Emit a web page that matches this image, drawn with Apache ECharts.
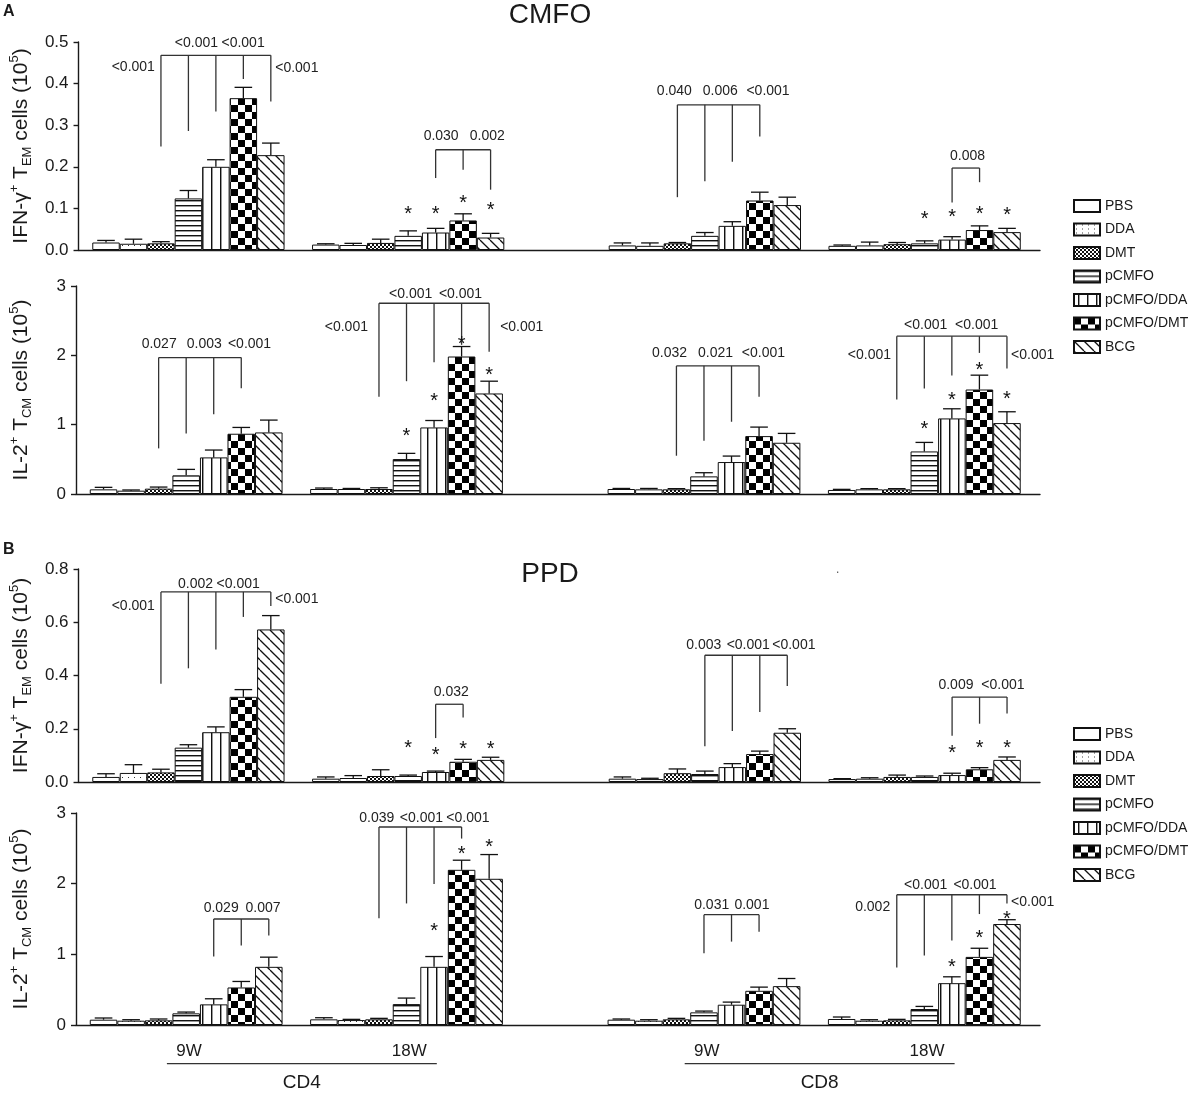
<!DOCTYPE html>
<html><head><meta charset="utf-8">
<script src="https://cdn.jsdelivr.net/npm/echarts@6/dist/echarts.min.js"></script>
<style>html,body{margin:0;padding:0;background:#fff}#c{width:1189px;height:1093px}</style>
</head><body><div id="c"></div>
<script>
// ---------- DATA ----------
const treatments = ['PBS', 'DDA', 'DMT', 'pCMFO', 'pCMFO/DDA', 'pCMFO/DMT', 'BCG'];
const groupLabels = ['9W', '18W', '9W', '18W'];
const cellLabels = ['CD4', 'CD8'];

const cmfoIfnTicks = ['0.0', '0.1', '0.2', '0.3', '0.4', '0.5'];
const cmfoIl2Ticks = ['0', '1', '2', '3'];
const ppdIfnTicks = ['0.0', '0.2', '0.4', '0.6', '0.8'];
const ppdIl2Ticks = ['0', '1', '2', '3'];

// rows = groups (CD4 9W, CD4 18W, CD8 9W, CD8 18W), columns = treatments
const cmfoIfnMean = [
  [0.018, 0.015, 0.016, 0.124, 0.200, 0.365, 0.228],
  [0.013, 0.012, 0.017, 0.034, 0.042, 0.071, 0.030],
  [0.011, 0.010, 0.016, 0.034, 0.058, 0.119, 0.108],
  [0.010, 0.011, 0.014, 0.016, 0.025, 0.048, 0.043]
];
const cmfoIfnErr = [
  [0.005, 0.011, 0.004, 0.019, 0.017, 0.026, 0.029],
  [0.002, 0.004, 0.009, 0.012, 0.010, 0.016, 0.010],
  [0.006, 0.007, 0.002, 0.008, 0.010, 0.020, 0.019],
  [0.002, 0.008, 0.004, 0.006, 0.007, 0.010, 0.009]
];
const cmfoIl2Mean = [
  [0.067, 0.048, 0.077, 0.269, 0.528, 0.869, 0.888],
  [0.072, 0.072, 0.072, 0.504, 0.960, 1.983, 1.450],
  [0.072, 0.067, 0.067, 0.254, 0.461, 0.835, 0.739],
  [0.058, 0.067, 0.067, 0.614, 1.090, 1.507, 1.023]
];
const cmfoIl2Err = [
  [0.029, 0.010, 0.023, 0.086, 0.106, 0.091, 0.178],
  [0.014, 0.008, 0.018, 0.082, 0.100, 0.144, 0.177],
  [0.008, 0.013, 0.010, 0.053, 0.086, 0.130, 0.135],
  [0.009, 0.010, 0.010, 0.130, 0.139, 0.207, 0.163]
];
const ppdIfnMean = [
  [0.019, 0.034, 0.036, 0.129, 0.187, 0.320, 0.573],
  [0.0125, 0.015, 0.0225, 0.0225, 0.0376, 0.076, 0.083],
  [0.0125, 0.011, 0.033, 0.030, 0.056, 0.105, 0.185],
  [0.011, 0.0125, 0.019, 0.019, 0.026, 0.0476, 0.083]
];
const ppdIfnErr = [
  [0.012, 0.031, 0.012, 0.011, 0.020, 0.027, 0.052],
  [0.0065, 0.009, 0.0235, 0.0035, 0.0034, 0.009, 0.010],
  [0.0065, 0.003, 0.016, 0.011, 0.013, 0.011, 0.015],
  [0.0015, 0.0035, 0.007, 0.0035, 0.007, 0.0064, 0.011]
];
const ppdIl2Mean = [
  [0.075, 0.061, 0.066, 0.165, 0.292, 0.531, 0.823],
  [0.080, 0.070, 0.080, 0.296, 0.823, 2.196, 2.069],
  [0.075, 0.061, 0.080, 0.179, 0.287, 0.484, 0.550],
  [0.085, 0.061, 0.066, 0.226, 0.592, 0.964, 1.429]
];
const ppdIl2Err = [
  [0.024, 0.014, 0.019, 0.018, 0.079, 0.085, 0.137],
  [0.023, 0.010, 0.014, 0.085, 0.146, 0.136, 0.343],
  [0.010, 0.014, 0.014, 0.018, 0.037, 0.052, 0.108],
  [0.028, 0.014, 0.014, 0.037, 0.090, 0.122, 0.061]
];

// significance brackets: group, top value, drops [barIndex, bottom value]
const cmfoIfnBrackets = [
  {g: 0, top: 0.468, drops: [[2, 0.249], [3, 0.286], [4, 0.333], [5, 0.411], [6, 0.357]]},
  {g: 1, top: 0.241, drops: [[4, 0.173], [5, 0.193], [6, 0.145]]},
  {g: 2, top: 0.349, drops: [[2, 0.127], [3, 0.165], [4, 0.212], [5, 0.273]]},
  {g: 3, top: 0.197, drops: [[4, 0.114], [5, 0.163]]}
];
const cmfoIl2Brackets = [
  {g: 0, top: 1.968, drops: [[2, 0.658], [3, 0.874], [4, 1.152], [5, 1.527]]},
  {g: 1, top: 2.751, drops: [[2, 1.402], [3, 1.627], [4, 1.901], [5, 2.151], [6, 2.05]]},
  {g: 2, top: 1.848, drops: [[2, 0.552], [3, 0.768], [4, 1.042], [5, 1.402]]},
  {g: 3, top: 2.276, drops: [[2, 1.363], [3, 1.522], [4, 1.709], [5, 2.035], [6, 1.81]]}
];
const ppdIfnBrackets = [
  {g: 0, top: 0.714, drops: [[2, 0.369], [3, 0.427], [4, 0.498], [5, 0.62], [6, 0.661]]},
  {g: 1, top: 0.292, drops: [[4, 0.165], [5, 0.242]]},
  {g: 2, top: 0.476, drops: [[3, 0.134], [4, 0.192], [5, 0.263], [6, 0.361]]},
  {g: 3, top: 0.319, drops: [[4, 0.174], [5, 0.219], [6, 0.257]]}
];
const ppdIl2Brackets = [
  {g: 0, top: 1.5, drops: [[4, 0.969], [5, 1.124], [6, 1.265]]},
  {g: 1, top: 2.802, drops: [[2, 1.51], [3, 1.72], [4, 1.994], [5, 2.638]]},
  {g: 2, top: 1.561, drops: [[3, 1.016], [4, 1.18], [5, 1.321]]},
  {g: 3, top: 1.843, drops: [[2, 0.813], [3, 0.983], [4, 1.194], [5, 1.57], [6, 1.72]]}
];

// p-values: [group, bar position, value, text, align]
const cmfoIfnPvals = [
  [0, 1.78, 0.44, '<0.001', 'right'], [0, 3.29, 0.498, '<0.001', 'center'],
  [0, 4.99, 0.498, '<0.001', 'center'], [0, 6.16, 0.436, '<0.001', 'left'],
  [1, 4.2, 0.273, '0.030', 'center'], [1, 5.88, 0.273, '0.002', 'center'],
  [2, 1.89, 0.382, '0.040', 'center'], [2, 3.56, 0.382, '0.006', 'center'], [2, 5.3, 0.382, '<0.001', 'center'],
  [3, 4.56, 0.225, '0.008', 'center']
];
const cmfoIl2Pvals = [
  [0, 2.02, 2.16, '0.027', 'center'], [0, 3.66, 2.16, '0.003', 'center'], [0, 5.3, 2.16, '<0.001', 'center'],
  [1, 1.6, 2.41, '<0.001', 'right'], [1, 3.15, 2.88, '<0.001', 'center'],
  [1, 4.96, 2.88, '<0.001', 'center'], [1, 6.4, 2.41, '<0.001', 'left'],
  [2, 1.75, 2.035, '0.032', 'center'], [2, 3.42, 2.035, '0.021', 'center'], [2, 5.16, 2.035, '<0.001', 'center'],
  [3, 1.79, 1.997, '<0.001', 'right'], [3, 3.05, 2.44, '<0.001', 'center'],
  [3, 4.9, 2.44, '<0.001', 'center'], [3, 6.15, 1.997, '<0.001', 'left']
];
const ppdIfnPvals = [
  [0, 1.78, 0.661, '<0.001', 'right'], [0, 3.26, 0.742, '0.002', 'center'],
  [0, 4.81, 0.742, '<0.001', 'center'], [0, 6.16, 0.685, '<0.001', 'left'],
  [1, 4.57, 0.338, '0.032', 'center'],
  [2, 2.96, 0.513, '0.003', 'center'], [2, 4.58, 0.513, '<0.001', 'center'], [2, 6.24, 0.513, '<0.001', 'center'],
  [3, 4.14, 0.363, '0.009', 'center'], [3, 5.85, 0.363, '<0.001', 'center']
];
const ppdIl2Pvals = [
  [0, 4.27, 1.66, '0.029', 'center'], [0, 5.79, 1.66, '0.007', 'center'],
  [1, 1.92, 2.934, '0.039', 'center'], [1, 3.54, 2.934, '<0.001', 'center'], [1, 5.23, 2.934, '<0.001', 'center'],
  [2, 3.28, 1.697, '0.031', 'center'], [2, 4.74, 1.697, '0.001', 'center'],
  [3, 1.76, 1.665, '0.002', 'right'], [3, 3.05, 1.98, '<0.001', 'center'],
  [3, 4.84, 1.98, '<0.001', 'center'], [3, 6.15, 1.745, '<0.001', 'left']
];

// asterisks: [group, bar, value]
const cmfoIfnStars = [[1, 3, 0.097], [1, 4, 0.097], [1, 5, 0.123], [1, 6, 0.107], [3, 3, 0.085], [3, 4, 0.09], [3, 5, 0.097], [3, 6, 0.095]];
const cmfoIl2Stars = [[1, 3, 0.907], [1, 4, 1.40], [1, 5, 2.228], [1, 6, 1.786], [3, 3, 1.008], [3, 4, 1.426], [3, 5, 1.848], [3, 6, 1.44]];
const ppdIfnStars = [[1, 3, 0.144], [1, 4, 0.119], [1, 5, 0.141], [1, 6, 0.141], [3, 4, 0.125], [3, 5, 0.144], [3, 6, 0.144]];
const ppdIl2Stars = [[1, 4, 1.39], [1, 5, 2.48], [1, 6, 2.577], [3, 4, 0.884], [3, 5, 1.288], [3, 6, 1.57]];

// ---------- LAYOUT / STYLE ----------
const FONT = '"Liberation Sans", Arial, sans-serif';
const INK = '#1a1a1a';
const groupStart = [1, 9, 19.8, 27.8];   // slot position of first bar of each group
const X_MAX = 35;

function tile(w, h, draw) {
  const c = document.createElement('canvas');
  c.width = w; c.height = h;
  const ctx = c.getContext('2d');
  ctx.fillStyle = '#fff'; ctx.fillRect(0, 0, w, h);
  draw(ctx);
  return {image: c, repeat: 'repeat'};
}
const fills = [
  '#ffffff',
  tile(6, 4, c => { c.fillStyle = '#333'; c.fillRect(2, 1, 1, 1); }),
  tile(4, 4, c => { c.fillStyle = '#111'; c.fillRect(0, 0, 2, 2); c.fillRect(2, 2, 2, 2); }),
  tile(4, 5, c => { c.fillStyle = '#111'; c.fillRect(0, 0, 4, 1); c.fillStyle = '#999'; c.fillRect(0, 1, 4, 1); }),
  tile(9, 4, c => { c.fillStyle = '#111'; c.fillRect(4, 0, 1, 4); c.fillStyle = '#999'; c.fillRect(5, 0, 1, 4); }),
  tile(14, 14, c => { c.fillStyle = '#000'; c.fillRect(0, 0, 7, 7); c.fillRect(7, 7, 7, 7); }),
  tile(10, 10, c => { c.strokeStyle = '#111'; c.lineWidth = 1.3; [-10, 0, 10].forEach(k => { c.beginPath(); c.moveTo(k, 0); c.lineTo(k + 10, 10); c.stroke(); }); })
];

const ifnName = '{a|IFN-γ}{sup|+}{a| T}{sub|EM}{a| cells (10}{sup|5}{a|)}';
const il2Name = '{a|IL-2}{sup|+}{a| T}{sub|CM}{a| cells (10}{sup|5}{a|)}';

const panels = [
  {top: 42, height: 208, ticks: cmfoIfnTicks, name: ifnName, mean: cmfoIfnMean, err: cmfoIfnErr, brackets: cmfoIfnBrackets, pvals: cmfoIfnPvals, stars: cmfoIfnStars},
  {top: 286, height: 208, ticks: cmfoIl2Ticks, name: il2Name, mean: cmfoIl2Mean, err: cmfoIl2Err, brackets: cmfoIl2Brackets, pvals: cmfoIl2Pvals, stars: cmfoIl2Stars},
  {top: 569, height: 213, ticks: ppdIfnTicks, name: ifnName, mean: ppdIfnMean, err: ppdIfnErr, brackets: ppdIfnBrackets, pvals: ppdIfnPvals, stars: ppdIfnStars},
  {top: 813, height: 212, ticks: ppdIl2Ticks, name: il2Name, mean: ppdIl2Mean, err: ppdIl2Err, brackets: ppdIl2Brackets, pvals: ppdIl2Pvals, stars: ppdIl2Stars}
];

const lineStyle = {stroke: '#333', lineWidth: 1.3};

function annotList(p) {
  const list = [];
  p.brackets.forEach(b => list.push({kind: 'b', g: b.g, top: b.top, drops: b.drops}));
  p.pvals.forEach(v => list.push({kind: 'p', g: v[0], x: v[1], y: v[2], text: v[3], align: v[4]}));
  p.stars.forEach(s => list.push({kind: 's', g: s[0], x: s[1], y: s[2]}));
  return list;
}

function annotRender(list) {
  return function (params, api) {
    const a = list[params.dataIndex];
    const X = (g, i) => groupStart[g] + i;
    if (a.kind === 'b') {
      const first = a.drops[0][0], last = a.drops[a.drops.length - 1][0];
      const l = api.coord([X(a.g, first), a.top]), r = api.coord([X(a.g, last), a.top]);
      const children = [{type: 'line', shape: {x1: l[0], y1: l[1], x2: r[0], y2: r[1]}, style: lineStyle}];
      a.drops.forEach(d => {
        const t = api.coord([X(a.g, d[0]), a.top]), b = api.coord([X(a.g, d[0]), d[1]]);
        children.push({type: 'line', shape: {x1: t[0], y1: t[1], x2: b[0], y2: b[1]}, style: lineStyle});
      });
      return {type: 'group', children};
    }
    if (a.kind === 'p') {
      const pt = api.coord([X(a.g, a.x), a.y]);
      return {type: 'text', x: pt[0], y: pt[1], style: {text: a.text, fill: '#222', font: '14px ' + FONT, align: a.align, verticalAlign: 'middle'}};
    }
    const pt = api.coord([X(a.g, a.x), a.y]);
    return {type: 'text', x: pt[0], y: pt[1] + 5, style: {text: '*', fill: '#111', font: '20px ' + FONT, align: 'center', verticalAlign: 'middle'}};
  };
}

const grids = [], xAxes = [], yAxes = [], series = [];
panels.forEach((p, pi) => {
  grids.push({left: 67, width: 973, top: p.top, height: p.height});
  xAxes.push({type: 'value', gridIndex: pi, min: 0, max: X_MAX, axisLine: {show: true, onZero: false, lineStyle: {color: INK, width: 1.4}}, axisTick: {show: false}, axisLabel: {show: false}, splitLine: {show: false}});
  const tv = p.ticks.map(Number);
  yAxes.push({
    type: 'value', gridIndex: pi, min: 0, max: tv[tv.length - 1], interval: tv[1] - tv[0],
    axisLine: {show: true, lineStyle: {color: INK, width: 1.4}},
    axisTick: {show: true, length: 5, lineStyle: {color: INK, width: 1.4}},
    axisLabel: {margin: 10, color: INK, fontSize: 17, fontFamily: FONT, formatter: v => p.ticks[Math.round(v / (tv[1] - tv[0]))]},
    splitLine: {show: false},
    name: p.name, nameLocation: 'middle', nameRotate: 90, nameGap: 42,
    nameTextStyle: {rich: {
      a: {fontSize: 21, fontFamily: FONT, color: INK, lineHeight: 26},
      sup: {fontSize: 13, fontFamily: FONT, color: INK, lineHeight: 14, verticalAlign: 'top'},
      sub: {fontSize: 13, fontFamily: FONT, color: INK, lineHeight: 15, verticalAlign: 'bottom'}
    }}
  });
  treatments.forEach((t, ti) => {
    series.push({
      type: 'bar', name: t, xAxisIndex: pi, yAxisIndex: pi,
      barWidth: '100%', barGap: '-100%',
      itemStyle: {color: fills[ti], borderColor: '#111', borderWidth: 1},
      data: p.mean.map((row, g) => [groupStart[g] + ti, row[ti]]),
      z: 2
    });
  });
  const errData = [];
  p.mean.forEach((row, g) => row.forEach((m, ti) => errData.push([groupStart[g] + ti, m, p.err[g][ti]])));
  series.push({
    type: 'custom', name: 'err' + pi, xAxisIndex: pi, yAxisIndex: pi, clip: false, silent: true, z: 3,
    encode: {x: 0, y: 1},
    data: errData,
    renderItem: (params, api) => {
      const x = api.value(0), m = api.value(1), e = api.value(2);
      const p0 = api.coord([x, m]), p1 = api.coord([x, m + e]);
      const hw = api.size([1, 0])[0] * 0.32;
      const st = {stroke: '#111', lineWidth: 1.3};
      return {type: 'group', children: [
        {type: 'line', shape: {x1: p0[0], y1: p0[1], x2: p1[0], y2: p1[1]}, style: st},
        {type: 'line', shape: {x1: p1[0] - hw, y1: p1[1], x2: p1[0] + hw, y2: p1[1]}, style: st}
      ]};
    }
  });
  const list = annotList(p);
  series.push({
    type: 'custom', name: 'annot' + pi, xAxisIndex: pi, yAxisIndex: pi, clip: false, silent: true, z: 4,
    data: list.map(() => [0, 0]),
    renderItem: annotRender(list)
  });
});

// bottom group labels (on last panel, below the axis)
const bottomItems = [];
groupLabels.forEach((t, g) => bottomItems.push({kind: 't', x: groupStart[g] + 3.1, y: -0.377, text: t, size: 17}));
cellLabels.forEach((t, c) => {
  const x0 = groupStart[2 * c] + 2.3, x1 = groupStart[2 * c + 1] + 4.1;
  bottomItems.push({kind: 'l', x0, x1, y: -0.547});
  bottomItems.push({kind: 't', x: (x0 + x1) / 2, y: -0.815, text: t, size: 19});
});
series.push({
  type: 'custom', name: 'groups', xAxisIndex: 3, yAxisIndex: 3, clip: false, silent: true,
  data: bottomItems.map(() => [0, 0]),
  renderItem: (params, api) => {
    const a = bottomItems[params.dataIndex];
    if (a.kind === 'l') {
      const l = api.coord([a.x0, a.y]), r = api.coord([a.x1, a.y]);
      return {type: 'line', shape: {x1: l[0], y1: l[1], x2: r[0], y2: r[1]}, style: {stroke: '#333', lineWidth: 1.4}};
    }
    const pt = api.coord([a.x, a.y]);
    return {type: 'text', x: pt[0], y: pt[1], style: {text: a.text, fill: INK, font: a.size + 'px ' + FONT, align: 'center', verticalAlign: 'middle'}};
  }
});

const legendBase = {
  orient: 'vertical', left: 1068, itemWidth: 26, itemHeight: 12, itemGap: 9.5, icon: 'rect',
  textStyle: {fontSize: 14, fontFamily: FONT, color: INK}, selectedMode: false,
  data: treatments
};

const chart = echarts.init(document.getElementById('c'), null, {renderer: 'canvas'});
chart.setOption({
  animation: false,
  backgroundColor: '#ffffff',
  grid: grids, xAxis: xAxes, yAxis: yAxes, series,
  legend: [Object.assign({top: 194}, legendBase), Object.assign({top: 722}, legendBase)],
  graphic: [
    {type: 'text', left: 3, top: 4, style: {text: 'A', font: 'bold 16px ' + FONT, fill: INK}},
    {type: 'text', x: 550, y: 15, style: {text: 'CMFO', font: '28px ' + FONT, fill: INK, align: 'center', verticalAlign: 'middle'}},
    {type: 'text', left: 3, top: 542, style: {text: 'B', font: 'bold 16px ' + FONT, fill: INK}},
    {type: 'text', x: 550, y: 574, style: {text: 'PPD', font: '28px ' + FONT, fill: INK, align: 'center', verticalAlign: 'middle'}},
    {type: 'text', x: 836, y: 564, style: {text: '.', font: '12px ' + FONT, fill: '#555'}}
  ]
});
</script></body></html>
